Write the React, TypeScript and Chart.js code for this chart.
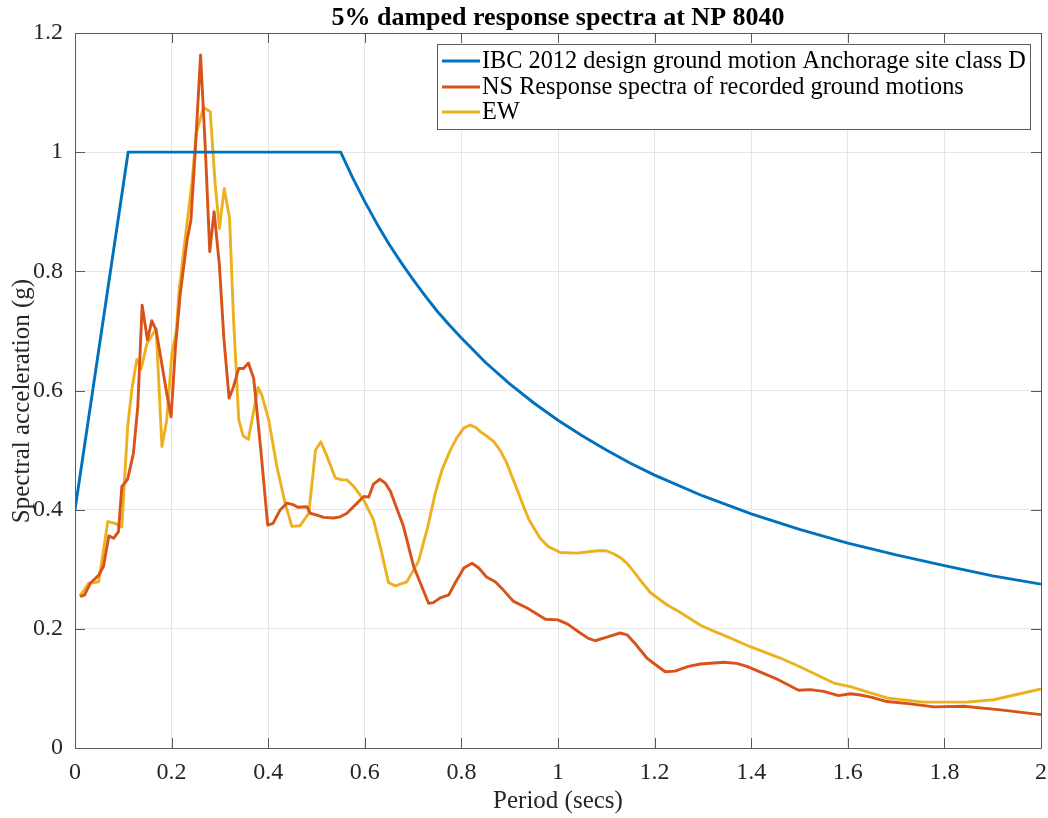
import React, { useEffect, useRef } from "react";
import { Chart, registerables } from "chart.js";

Chart.register(...registerables);

const W = 1048;
const H = 818;

const chartTitle = "5% damped response spectra at NP 8040";
const xAxisTitle = "Period (secs)";
const yAxisTitle = "Spectral acceleration (g)";

const seriesNames = [
  "IBC 2012 design ground motion Anchorage site class D",
  "NS Response spectra of recorded ground motions",
  "EW",
];
const seriesColors = ["#0072BD", "#D95319", "#EDB120"];

const xTickLabels = ["0", "0.2", "0.4", "0.6", "0.8", "1", "1.2", "1.4", "1.6", "1.8", "2"];
const yTickLabels = ["0", "0.2", "0.4", "0.6", "0.8", "1", "1.2"];

// IBC 2012 design spectrum
const ibcPeriod = [0, 0.11, 0.55, 0.575, 0.6, 0.625, 0.65, 0.675, 0.7, 0.725, 0.75, 0.775, 0.8, 0.85, 0.9, 0.95, 1.0, 1.05, 1.1, 1.15, 1.2, 1.3, 1.4, 1.5, 1.6, 1.7, 1.8, 1.9, 2.0];
const ibcSA = [0.4, 1.0, 1.0, 0.957, 0.917, 0.88, 0.846, 0.815, 0.786, 0.759, 0.733, 0.71, 0.688, 0.647, 0.611, 0.579, 0.55, 0.524, 0.5, 0.478, 0.458, 0.423, 0.393, 0.367, 0.344, 0.324, 0.306, 0.289, 0.275];

// NS recorded spectrum
const nsPeriod = [
  0.011, 0.02, 0.032, 0.049, 0.059, 0.07, 0.08, 0.09, 0.097, 0.109,
  0.121, 0.13, 0.139, 0.15, 0.159, 0.168, 0.19, 0.199, 0.208, 0.218,
  0.232, 0.24, 0.249, 0.26, 0.27, 0.279, 0.288, 0.299, 0.308, 0.319,
  0.328, 0.339, 0.349, 0.359, 0.37, 0.384, 0.399, 0.41, 0.425, 0.439,
  0.453, 0.461, 0.48, 0.487, 0.501, 0.515, 0.535, 0.549, 0.563, 0.584,
  0.598, 0.608, 0.618, 0.631, 0.642, 0.653, 0.68, 0.701, 0.732, 0.742,
  0.756, 0.774, 0.787, 0.805, 0.822, 0.836, 0.852, 0.87, 0.887, 0.908,
  0.936, 0.974, 1.0, 1.02, 1.046, 1.063, 1.077, 1.101, 1.129, 1.143,
  1.16, 1.184, 1.2, 1.222, 1.242, 1.27, 1.295, 1.343, 1.37, 1.391,
  1.45, 1.498, 1.522, 1.55, 1.581, 1.605, 1.626, 1.65, 1.681, 1.73,
  1.778, 1.84, 1.916, 2.0,
];
const nsSA = [
  0.254, 0.257, 0.277, 0.29, 0.305, 0.356, 0.352, 0.363, 0.439, 0.451,
  0.495, 0.573, 0.743, 0.685, 0.717, 0.701, 0.595, 0.556, 0.673, 0.763,
  0.852, 0.886, 1.003, 1.163, 1.003, 0.833, 0.9, 0.81, 0.69, 0.587,
  0.606, 0.637, 0.637, 0.646, 0.62, 0.506, 0.374, 0.377, 0.4, 0.411,
  0.408, 0.404, 0.405, 0.394, 0.391, 0.387, 0.386, 0.388, 0.394, 0.411,
  0.422, 0.421, 0.443, 0.451, 0.445, 0.431, 0.372, 0.305, 0.243, 0.244,
  0.252, 0.257, 0.277, 0.302, 0.31, 0.302, 0.287, 0.279, 0.265, 0.246,
  0.235, 0.216, 0.215, 0.208, 0.193, 0.184, 0.18, 0.186, 0.193, 0.19,
  0.175, 0.151, 0.141, 0.128, 0.129, 0.137, 0.141, 0.144, 0.142, 0.137,
  0.117, 0.097, 0.098, 0.095, 0.088, 0.091, 0.089, 0.085, 0.078, 0.074,
  0.069, 0.07, 0.064, 0.056,
];

// EW recorded spectrum
const ewPeriod = [
  0.01, 0.028, 0.049, 0.068, 0.083, 0.097, 0.109, 0.118, 0.128, 0.137,
  0.149, 0.168, 0.18, 0.19, 0.201, 0.21, 0.215, 0.228, 0.242, 0.251,
  0.266, 0.28, 0.29, 0.299, 0.309, 0.32, 0.328, 0.339, 0.348, 0.359,
  0.379, 0.387, 0.401, 0.418, 0.435, 0.449, 0.466, 0.484, 0.498, 0.509,
  0.522, 0.539, 0.553, 0.563, 0.577, 0.598, 0.618, 0.632, 0.649, 0.663,
  0.687, 0.701, 0.711, 0.73, 0.746, 0.76, 0.777, 0.79, 0.805, 0.818,
  0.83, 0.839, 0.85, 0.867, 0.88, 0.894, 0.91, 0.929, 0.94, 0.963,
  0.98, 1.005, 1.039, 1.06, 1.081, 1.1, 1.115, 1.13, 1.143, 1.157,
  1.17, 1.191, 1.226, 1.25, 1.295, 1.32, 1.35, 1.398, 1.46, 1.502,
  1.571, 1.605, 1.681, 1.757, 1.847, 1.902, 2.0,
];
const ewSA = [
  0.255, 0.276, 0.279, 0.38, 0.377, 0.371, 0.539, 0.604, 0.652, 0.636,
  0.679, 0.704, 0.506, 0.551, 0.665, 0.7, 0.763, 0.855, 0.948, 1.031,
  1.075, 1.068, 0.948, 0.872, 0.939, 0.889, 0.724, 0.551, 0.524, 0.518,
  0.605, 0.592, 0.551, 0.472, 0.411, 0.372, 0.373, 0.394, 0.5, 0.514,
  0.489, 0.453, 0.45, 0.45, 0.439, 0.416, 0.383, 0.338, 0.278, 0.272,
  0.279, 0.299, 0.313, 0.37, 0.428, 0.467, 0.5, 0.52, 0.537, 0.542,
  0.538, 0.531, 0.525, 0.514, 0.5, 0.478, 0.445, 0.405, 0.383, 0.352,
  0.338, 0.328, 0.327, 0.329, 0.331, 0.331, 0.326, 0.319, 0.31, 0.296,
  0.282, 0.261, 0.24, 0.229, 0.206, 0.197, 0.187, 0.17, 0.151, 0.136,
  0.109, 0.103, 0.084, 0.077, 0.077, 0.081, 0.099,
];

const FONT = "'Liberation Serif', 'Times New Roman', serif";

function toPoints(xs: number[], ys: number[]) {
  return xs.map((x, i) => ({ x, y: ys[i] }));
}

const decorPlugin = {
  id: "matlabDecor",
  afterDatasetsDraw(chart: any) {
    const { ctx, chartArea, scales } = chart;
    const { left, right, top, bottom } = chartArea;
    ctx.save();
    ctx.strokeStyle = "#5a5a5a";
    ctx.lineWidth = 1;
    ctx.beginPath();
    ctx.rect(Math.round(left) + 0.5, Math.round(top) + 0.5, Math.round(right - left), Math.round(bottom - top));
    ctx.stroke();
    const tl = 10;
    ctx.beginPath();
    scales.x.ticks.forEach((t: any) => {
      const px = Math.round(scales.x.getPixelForValue(t.value)) + 0.5;
      ctx.moveTo(px, bottom);
      ctx.lineTo(px, bottom - tl);
      ctx.moveTo(px, top);
      ctx.lineTo(px, top + tl);
    });
    scales.y.ticks.forEach((t: any) => {
      const py = Math.round(scales.y.getPixelForValue(t.value)) + 0.5;
      ctx.moveTo(left, py);
      ctx.lineTo(left + tl, py);
      ctx.moveTo(right, py);
      ctx.lineTo(right - tl, py);
    });
    ctx.stroke();
    ctx.restore();
  },
  afterDraw(chart: any) {
    const { ctx, chartArea } = chart;
    const { left, right } = chartArea;
    const cx = (left + right) / 2;
    ctx.save();
    ctx.fillStyle = "#000";
    // title
    ctx.font = `bold 26px ${FONT}`;
    ctx.textAlign = "center";
    ctx.textBaseline = "alphabetic";
    ctx.fillText(chartTitle, cx, 25);
    // x label
    ctx.fillStyle = "#262626";
    ctx.font = `25px ${FONT}`;
    ctx.textBaseline = "middle";
    ctx.fillText(xAxisTitle, cx, 801);
    // y label
    ctx.save();
    ctx.translate(22, 401);
    ctx.rotate(-Math.PI / 2);
    ctx.fillText(yAxisTitle, 0, 0);
    ctx.restore();

    // legend
    const bx = 437, by = 44, bw = 593, bh = 85;
    ctx.fillStyle = "#ffffff";
    ctx.fillRect(bx, by, bw, bh);
    ctx.strokeStyle = "#5a5a5a";
    ctx.lineWidth = 1;
    ctx.strokeRect(bx + 0.5, by + 0.5, bw, bh);
    const rows = [61, 87, 112];
    ctx.font = `24.3px ${FONT}`;
    ctx.textAlign = "left";
    ctx.textBaseline = "middle";
    seriesNames.forEach((name, i) => {
      ctx.strokeStyle = seriesColors[i];
      ctx.lineWidth = 3;
      ctx.beginPath();
      ctx.moveTo(bx + 5, rows[i]);
      ctx.lineTo(bx + 43, rows[i]);
      ctx.stroke();
      ctx.fillStyle = "#000";
      ctx.fillText(name, bx + 45, rows[i] + 1);
    });
    ctx.restore();
  },
};

export default function App() {
  const ref = useRef<HTMLCanvasElement | null>(null);
  useEffect(() => {
    if (!ref.current) return;
    const lw = 2.9;
    const chart = new Chart(ref.current, {
      type: "line",
      data: {
        datasets: [
          { label: seriesNames[0], data: toPoints(ibcPeriod, ibcSA), borderColor: seriesColors[0], backgroundColor: seriesColors[0], borderWidth: lw, pointRadius: 0, tension: 0, fill: false, borderJoinStyle: "round" },
          { label: seriesNames[1], data: toPoints(nsPeriod, nsSA), borderColor: seriesColors[1], backgroundColor: seriesColors[1], borderWidth: lw, pointRadius: 0, tension: 0, fill: false, borderJoinStyle: "round" },
          { label: seriesNames[2], data: toPoints(ewPeriod, ewSA), borderColor: seriesColors[2], backgroundColor: seriesColors[2], borderWidth: lw, pointRadius: 0, tension: 0, fill: false, borderJoinStyle: "round" },
        ],
      },
      options: {
        responsive: false,
        animation: false,
        devicePixelRatio: 1,
        layout: { padding: { left: 0, right: 7, top: 33, bottom: 0 } },
        plugins: {
          legend: { display: false },
          title: { display: false },
          tooltip: { enabled: false },
        },
        scales: {
          x: {
            type: "linear",
            min: 0,
            max: 2,
            ticks: {
              stepSize: 0.2,
              padding: 10,
              color: "#262626",
              font: { family: FONT, size: 24 },
              maxRotation: 0,
              autoSkip: false,
              callback: (v: any) => xTickLabels[Math.round(Number(v) / 0.2)],
            },
            grid: { color: "#e6e6e6", lineWidth: 1, drawTicks: false },
            border: { display: false },
            afterFit: (s: any) => { s.height = 70; s.paddingLeft = 0; s.paddingRight = 0; },
          },
          y: {
            type: "linear",
            min: 0,
            max: 1.2,
            ticks: {
              stepSize: 0.2,
              padding: 12,
              color: "#262626",
              font: { family: FONT, size: 24 },
              autoSkip: false,
              callback: (v: any) => yTickLabels[Math.round(Number(v) / 0.2)],
            },
            grid: { color: "#e6e6e6", lineWidth: 1, drawTicks: false },
            border: { display: false },
            afterFit: (s: any) => { s.width = 75; s.paddingTop = 0; s.paddingBottom = 0; },
          },
        },
      },
      plugins: [decorPlugin],
    } as any);
    return () => chart.destroy();
  }, []);
  return (
    <div style={{ position: "absolute", left: 0, top: 0, width: W, height: H, background: "#fff" }}>
      <canvas ref={ref} width={W} height={H} style={{ display: "block", width: W, height: H }} />
    </div>
  );
}
